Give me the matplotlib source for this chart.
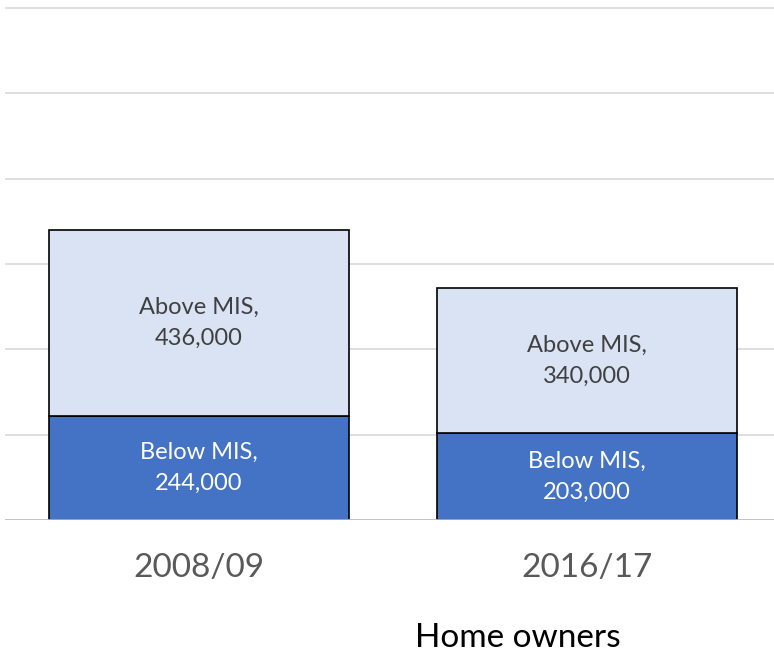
import matplotlib.pyplot as plt
import numpy as np

plt.rcParams['font.family'] = ['Lato', 'DejaVu Sans']

years = ['2008/09', '2016/17']
below_mis = [244000, 203000]
above_mis = [436000, 340000]
group_label = 'Home owners'

dark_blue = '#4472C4'
light_blue = '#DAE3F3'

fig = plt.figure(figsize=(7.74, 6.54), dpi=100)
ax = fig.add_axes([5 / 774, 1 - 520 / 654, 1 - 5 / 774, 517 / 654])

x = np.arange(len(years))
ax.bar(x, below_mis, width=0.773, color=dark_blue, edgecolor='black', linewidth=1.2, zorder=3)
ax.bar(x, above_mis, width=0.773, bottom=below_mis, color=light_blue,
       edgecolor='black', linewidth=1.2, zorder=3)

for i in range(len(years)):
    ax.text(x[i], below_mis[i] / 2, f'Below MIS,\n{below_mis[i]:,}', ha='center', va='center',
            color='white', fontsize=17, linespacing=1.6, zorder=4)
    ax.text(x[i], below_mis[i] + above_mis[i] / 2, f'Above MIS,\n{above_mis[i]:,}', ha='center',
            va='center', color='#404040', fontsize=17, linespacing=1.6, zorder=4)

ax.set_xlim(-0.5, 1.482)
ax.set_ylim(0, 1211700)
ax.set_yticks(np.arange(0, 1200001, 200000))
ax.yaxis.grid(True, color='#D9D9D9', linewidth=1.2)
ax.set_axisbelow(True)
ax.axhline(0, color='#BFBFBF', linewidth=1.2, zorder=5)
ax.tick_params(axis='y', left=False, labelleft=False)
ax.tick_params(axis='x', bottom=False, pad=20, labelsize=24, labelcolor='#595959')
ax.set_xticks(x)
ax.set_xticklabels(years)
for s in ax.spines.values():
    s.set_visible(False)

fig.text(518 / 774, 1 - 638 / 654, group_label, ha='center', va='center', fontsize=24, color='black')

fig.savefig('out.png', dpi=100)
